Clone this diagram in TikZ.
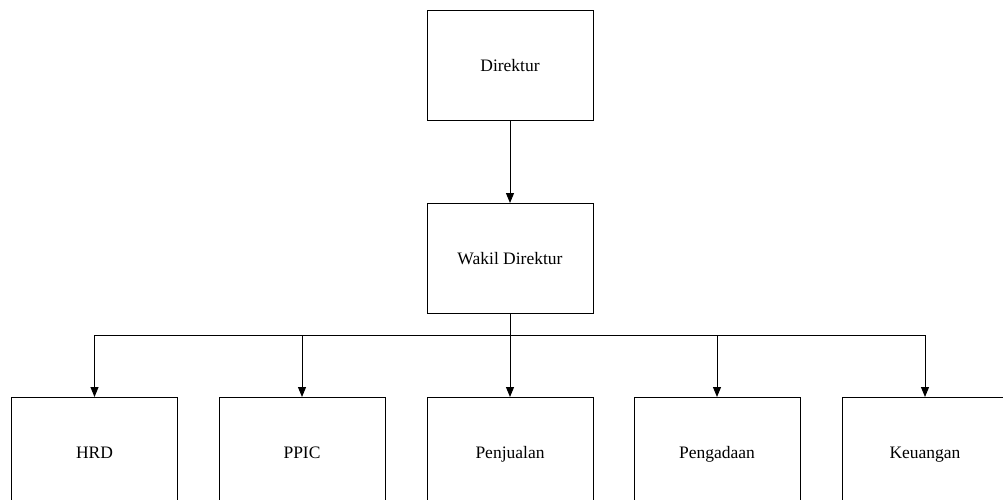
\documentclass[tikz,border=0pt]{standalone}
\usepackage{fontspec}
\setmainfont{Liberation Serif}
\usetikzlibrary{arrows.meta}
\begin{document}
\begin{tikzpicture}[x=1pt,y=-1pt,
  box/.style={draw,line width=1pt,minimum width=166pt,minimum height=110pt,inner sep=0pt,text height=14pt,text depth=2pt,font=\fontsize{17.5}{20}\selectfont,fill=white},
  conn/.style={line width=1pt},
  arr/.style={conn,-{Triangle[length=10pt,width=8pt]}}]
\clip (0,0) rectangle (1003,500);
\useasboundingbox (0,0) rectangle (1003,500);
\fill[white] (0,0) rectangle (1003,500);
\node[box] (dir) at (510,66) {Direktur};
\node[box] (wak) at (510,258.5) {Wakil Direktur};
\node[box] (hrd) at (94.5,452.5) {HRD};
\node[box] (ppic) at (302,452.5) {PPIC};
\node[box] (pnj) at (510,452.5) {Penjualan};
\node[box] (png) at (717,452.5) {Pengadaan};
\node[box] (keu) at (925,452.5) {Keuangan};
\coordinate (bus) at (510,335);
\draw[arr] (dir.south) -- (wak.north);
\draw[conn] (wak.south) -- (bus);
\draw[conn] (hrd.north |- bus) -- (keu.north |- bus);
\foreach \n in {hrd,ppic,pnj,png,keu}{
  \draw[arr] (\n.north |- bus) -- (\n.north);
}
\end{tikzpicture}
\end{document}
